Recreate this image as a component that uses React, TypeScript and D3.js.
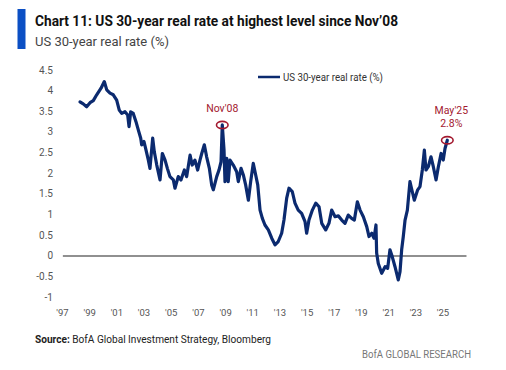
import React from "react";
import * as d3 from "d3";

const years = [
  1998.36, 1998.6, 1998.85, 1999.1, 1999.34, 1999.59, 1999.91, 2000.15, 2000.33, 2000.57,
  2000.81, 2001.06, 2001.25, 2001.43, 2001.67, 2001.87, 2001.97, 2002.09, 2002.28, 2002.48,
  2002.65, 2002.83, 2002.9, 2003.07, 2003.22, 2003.39, 2003.51, 2003.71, 2003.83, 2004.01,
  2004.25, 2004.42, 2004.62, 2004.79, 2004.98, 2005.23, 2005.35, 2005.59, 2005.79, 2006.04,
  2006.21, 2006.46, 2006.62, 2006.82, 2007.02, 2007.19, 2007.32, 2007.51, 2007.68, 2007.88,
  2008.05, 2008.17, 2008.42, 2008.59, 2008.74, 2008.83, 2008.96, 2009.03, 2009.16, 2009.27,
  2009.4, 2009.64, 2009.89, 2010.01, 2010.21, 2010.38, 2010.55, 2010.75, 2010.92, 2011.11,
  2011.29, 2011.44, 2011.61, 2011.78, 2011.97, 2012.22, 2012.47, 2012.71, 2012.95, 2013.2,
  2013.37, 2013.57, 2013.74, 2013.98, 2014.18, 2014.42, 2014.67, 2014.92, 2015.04, 2015.21,
  2015.46, 2015.71, 2015.95, 2016.15, 2016.44, 2016.68, 2016.88, 2017.13, 2017.37, 2017.62,
  2017.86, 2018.1, 2018.35, 2018.55, 2018.77, 2018.97, 2019.21, 2019.46, 2019.63, 2019.83,
  2020.0, 2020.14, 2020.19, 2020.31, 2020.56, 2020.81, 2021.0, 2021.17, 2021.34, 2021.54,
  2021.78, 2021.91, 2022.03, 2022.15, 2022.28, 2022.45, 2022.64, 2022.81, 2022.96, 2023.21,
  2023.38, 2023.55, 2023.7, 2023.82, 2023.99, 2024.19, 2024.36, 2024.56, 2024.73, 2024.93,
  2025.09, 2025.22, 2025.39,
];

const realRate = [
  3.73, 3.68, 3.61, 3.71, 3.76, 3.9, 4.06, 4.22, 4.02, 3.94,
  3.9, 3.77, 3.53, 3.45, 3.49, 3.41, 3.13, 3.49, 3.45, 3.25,
  3.05, 2.85, 2.69, 2.77, 2.56, 2.32, 2.12, 2.85, 2.52, 2.2,
  1.84, 2.48, 2.32, 2.12, 1.92, 1.84, 1.64, 1.92, 1.84, 2.08,
  1.92, 2.44, 2.2, 2.32, 2.08, 2.32, 2.48, 2.69, 2.4, 2.12,
  1.72, 1.6, 1.92, 2.08, 2.28, 3.17, 2.56, 1.8, 2.36, 1.8,
  2.32, 2.2, 2.04, 1.8, 2.12, 1.96, 1.72, 1.35, 1.8, 2.24,
  1.96, 1.72, 1.11, 0.91, 0.75, 0.63, 0.43, 0.27, 0.35, 0.55,
  0.87, 1.4, 1.64, 1.56, 1.28, 1.11, 1.03, 0.83, 0.55, 0.87,
  1.11, 1.28, 1.19, 0.79, 0.63, 0.79, 1.11, 0.95, 0.97, 0.87,
  0.79, 0.99, 0.91, 0.87, 1.31, 1.11, 0.95, 0.71, 0.47, 0.55,
  0.43, 0.75, 0.07, -0.18, -0.42, -0.26, -0.3, 0.15, -0.02, -0.26,
  -0.58, -0.38, 0.15, 0.47, 0.87, 1.11, 1.8, 1.56, 1.35, 1.6,
  1.68, 2.08, 2.56, 2.08, 2.16, 2.4, 2.16, 1.84, 2.16, 2.48,
  2.32, 2.6, 2.8,
];

const yTicks = [-1, -0.5, 0, 0.5, 1, 1.5, 2, 2.5, 3, 3.5, 4, 4.5];
const xTickYears = [1997, 1999, 2001, 2003, 2005, 2007, 2009, 2011, 2013, 2015, 2017, 2019, 2021, 2023, 2025];
const xTickLabels = ["'97", "'99", "'01", "'03", "'05", "'07", "'09", "'11", "'13", "'15", "'17", "'19", "'21", "'23", "'25"];

// highlighted points
const noteYears = [2008.83, 2025.39];
const noteValues = [3.17, 2.8];
const noteLabels = [["Nov'08"], ["May'25", "2.8%"]];

const NAVY = "#0b2a6f";
const RED = "#a3192f";
const FONT = "Roboto, 'Open Sans', sans-serif";

export default function App() {
  const width = 506;
  const height = 370;

  const x = d3.scaleLinear().domain([1997, 2027]).range([61.5, 469.2]);
  const y = d3.scaleLinear().domain([-1, 4.5]).range([297.3, 70]);

  const points: [number, number][] = years.map((yr, i) => [yr, realRate[i]]);
  const line = d3
    .line<[number, number]>()
    .x((d) => x(d[0]))
    .y((d) => y(d[1]));

  return (
    <div style={{ position: "absolute", left: 0, top: 0 }}>
      <svg width={width} height={height} style={{ display: "block", background: "#fff" }}>
        {/* header */}
        <rect x={17.5} y={9} width={8} height={40} fill="#0b4fc4" />
        <text
          x={35}
          y={26}
          fontFamily={FONT}
          fontWeight="bold"
          fontSize={14.5}
          fill="#111"
          textLength={363}
          lengthAdjust="spacingAndGlyphs"
        >
          Chart 11: US 30-year real rate at highest level since Nov’08
        </text>
        <text
          x={35}
          y={46}
          fontFamily={FONT}
          fontSize={13.5}
          fill="#444"
          textLength={134}
          lengthAdjust="spacingAndGlyphs"
        >
          US 30-year real rate (%)
        </text>

        {/* legend */}
        <line x1={258} x2={280} y1={77} y2={77} stroke={NAVY} strokeWidth={2.5} />
        <text
          x={283}
          y={80.5}
          fontFamily={FONT}
          fontSize={10}
          fill="#333"
          textLength={100}
          lengthAdjust="spacingAndGlyphs"
        >
          US 30-year real rate (%)
        </text>

        {/* y axis labels */}
        {yTicks.map((t) => (
          <text
            key={t}
            x={53}
            y={y(t) + 3.5}
            textAnchor="end"
            fontFamily={FONT}
            fontSize={10}
            fill="#555"
          >
            {t}
          </text>
        ))}

        {/* x axis labels */}
        {xTickYears.map((yr, i) => (
          <text
            key={yr}
            x={x(yr) + 1}
            y={316}
            textAnchor="middle"
            fontFamily={FONT}
            fontSize={9.5}
            fill="#555"
          >
            {xTickLabels[i]}
          </text>
        ))}

        {/* zero line */}
        <line x1={x(1997.1)} x2={x(2026.8)} y1={y(0)} y2={y(0)} stroke="#6b6b6b" strokeWidth={1.6} />

        {/* series */}
        <path
          d={line(points) || ""}
          fill="none"
          stroke={NAVY}
          strokeWidth={3.2}
          strokeLinejoin="round"
          strokeLinecap="round"
        />

        {/* annotations */}
        {noteYears.map((yr, i) => {
          const cx = x(yr);
          const cy = y(noteValues[i]);
          const lines = noteLabels[i];
          return (
            <g key={yr}>
              <ellipse cx={cx} cy={cy} rx={5.8} ry={3.6} fill="none" stroke={RED} strokeWidth={1.6} />
              {lines.map((l, j) => (
                <text
                  key={l}
                  x={cx + (i === 0 ? 0 : 4)}
                  y={cy - 13 - (lines.length - 1 - j) * 13}
                  textAnchor="middle"
                  fontFamily={FONT}
                  fontSize={10.5}
                  fill={RED}
                >
                  {l}
                </text>
              ))}
            </g>
          );
        })}

        {/* footer */}
        <text
          x={35}
          y={343}
          fontFamily={FONT}
          fontSize={11}
          fill="#222"
          textLength={236}
          lengthAdjust="spacingAndGlyphs"
        >
          <tspan fontWeight="bold">Source:</tspan> BofA Global Investment Strategy, Bloomberg
        </text>
        <text
          x={362}
          y={358}
          fontFamily={FONT}
          fontSize={11}
          fill="#777"
          textLength={109}
          lengthAdjust="spacingAndGlyphs"
        >
          BofA GLOBAL RESEARCH
        </text>
      </svg>
    </div>
  );
}
